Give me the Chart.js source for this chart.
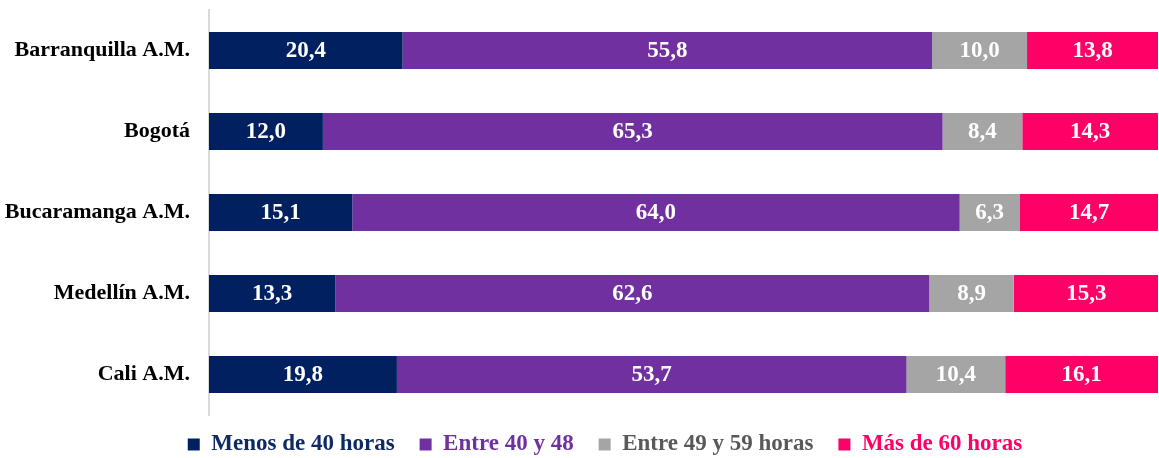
<!DOCTYPE html>
<html>
<head>
<meta charset="utf-8">
<script src="https://cdn.jsdelivr.net/npm/chart.js@4.4.1/dist/chart.umd.min.js"></script>
<style>
  html, body { margin: 0; padding: 0; background: #ffffff; }
  #wrap { width: 1159px; height: 458px; position: relative; }
</style>
</head>
<body>
<div id="wrap"><canvas id="c"></canvas></div>
<script>
const categories = ["Barranquilla A.M.", "Bogotá", "Bucaramanga A.M.", "Medellín A.M.", "Cali A.M."];
const seriesNames = ["Menos de 40 horas", "Entre 40 y 48", "Entre 49 y 59 horas", "Más de 60 horas"];
const menos40 = [20.4, 12.0, 15.1, 13.3, 19.8];
const entre40y48 = [55.8, 65.3, 64.0, 62.6, 53.7];
const entre49y59 = [10.0, 8.4, 6.3, 8.9, 10.4];
const mas60 = [13.8, 14.3, 14.7, 15.3, 16.1];

const barColors = ["#002060", "#7030A0", "#A5A5A5", "#FF0066"];
const legendTextColors = ["#0E2A62", "#7030A0", "#595959", "#FF0066"];
const FONT = "'Liberation Serif', 'Times New Roman', serif";

const seriesValues = [menos40, entre40y48, entre49y59, mas60];

const LEGEND_PAD = 25;

const labelPlugin = {
  id: 'barLabels',
  afterDatasetsDraw(chart) {
    const ctx = chart.ctx;
    ctx.save();
    ctx.font = "bold 23px " + FONT;
    ctx.fillStyle = "#ffffff";
    ctx.textAlign = "center";
    ctx.textBaseline = "middle";
    chart.data.datasets.forEach((ds, i) => {
      const meta = chart.getDatasetMeta(i);
      meta.data.forEach((el, j) => {
        const v = ds.data[j];
        const cx = (el.x + el.base) / 2;
        ctx.fillText(v.toFixed(1).replace('.', ','), cx, el.y + 1);
      });
    });
    ctx.restore();
  }
};

const legendPlace = {
  id: 'legendPlace',
  beforeLayout(chart) {
    const lg = chart.legend;
    if (lg && !lg._patched) {
      const f = lg.fit;
      lg.fit = function () { f.call(this); this.height = 43; };
      lg._patched = true;
    }
  },
  afterLayout(chart) {
    const lg = chart.legend;
    if (lg) {
      lg.top = 408;
      lg.bottom = chart.height;
      lg.left += 26;
      lg.right += 26;
      lg.width = lg.right - lg.left;
      lg.height = lg.bottom - lg.top;
    }
  }
};

new Chart(document.getElementById('c'), {
  type: 'bar',
  data: {
    labels: categories,
    datasets: seriesNames.map((n, i) => ({
      label: n,
      data: seriesValues[i],
      backgroundColor: barColors[i],
      borderWidth: 0,
      categoryPercentage: 1,
      barPercentage: 0.457
    }))
  },
  options: {
    indexAxis: 'y',
    responsive: true,
    maintainAspectRatio: false,
    animation: false,
    layout: { padding: { top: 10, right: 1, left: 0, bottom: 0 } },
    scales: {
      x: { display: false, stacked: true, min: 0, max: 100 },
      y: {
        stacked: true,
        afterFit: s => { s.width = 209; s.paddingTop = 0; s.paddingBottom = 0; },
        grid: { display: false, drawTicks: false },
        border: { display: true, color: '#d9d9d9', width: 2 },
        ticks: {
          color: '#000000',
          padding: 19,
          font: { family: FONT, weight: 'bold', size: 22 }
        }
      }
    },
    plugins: {
      tooltip: { enabled: false },
      legend: {
        position: 'bottom',
        labels: {
          boxWidth: 12,
          boxHeight: 12,
          padding: LEGEND_PAD,
          font: { family: FONT, weight: 'bold', size: 23, lineHeight: 1 },
          generateLabels(chart) {
            return chart.data.datasets.map((ds, i) => ({
              text: ds.label,
              fillStyle: barColors[i],
              strokeStyle: barColors[i],
              lineWidth: 0,
              fontColor: legendTextColors[i],
              datasetIndex: i,
              hidden: false
            }));
          }
        }
      }
    }
  },
  plugins: [labelPlugin, legendPlace]
});
</script>
</body>
</html>
